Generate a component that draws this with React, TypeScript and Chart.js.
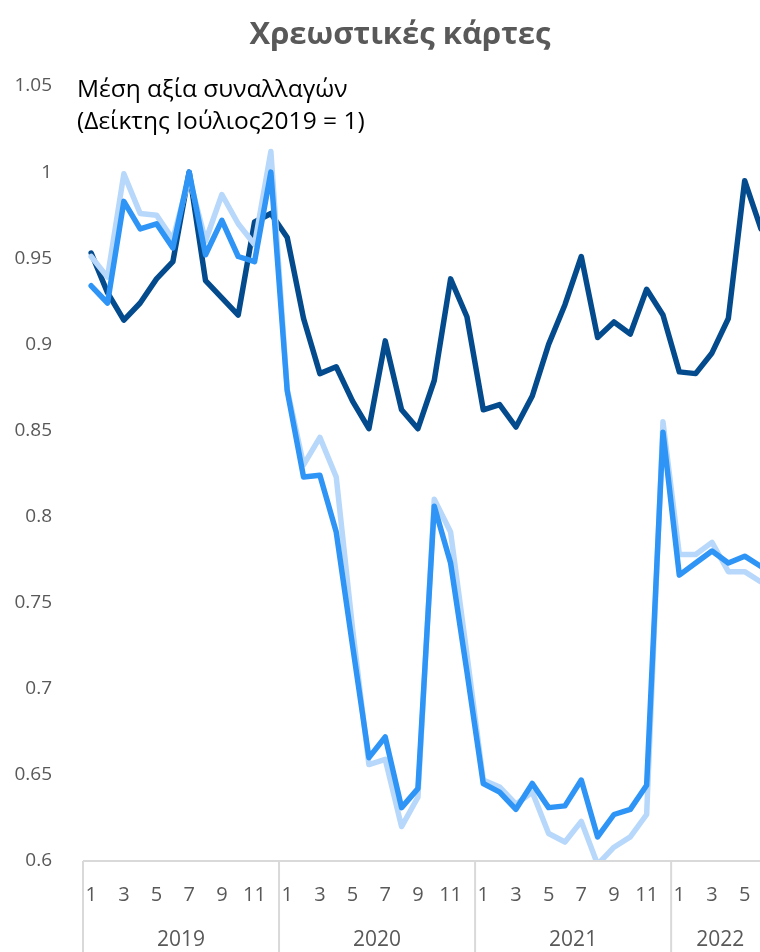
import React, { useEffect, useRef } from "react";
import { Chart, registerables } from "chart.js";

Chart.register(...registerables);

const years = ["2019", "2020", "2021", "2022"];
const monthsPerYear = [12, 12, 12, 6];

// Average transaction value index (July 2019 = 1), three series
const seriesDark = [
  0.953, 0.93, 0.914, 0.924, 0.938, 0.948, 1.0, 0.937, 0.927, 0.917, 0.971, 0.976,
  0.962, 0.915, 0.883, 0.887, 0.867, 0.851, 0.902, 0.862, 0.851, 0.879, 0.938, 0.916,
  0.862, 0.865, 0.852, 0.87, 0.9, 0.923, 0.951, 0.904, 0.913, 0.906, 0.932, 0.917,
  0.884, 0.883, 0.895, 0.915, 0.995, 0.967,
];
const seriesMedium = [
  0.934, 0.924, 0.983, 0.967, 0.97, 0.956, 1.0, 0.952, 0.972, 0.951, 0.948, 1.0,
  0.873, 0.823, 0.824, 0.791, 0.725, 0.66, 0.672, 0.631, 0.642, 0.806, 0.773, 0.71,
  0.645, 0.64, 0.63, 0.645, 0.631, 0.632, 0.647, 0.614, 0.627, 0.63, 0.644, 0.849,
  0.766, 0.773, 0.78, 0.773, 0.777, 0.771,
];
const seriesLight = [
  0.951, 0.939, 0.999, 0.976, 0.975, 0.961, 0.997, 0.96, 0.987, 0.97, 0.958, 1.012,
  0.874, 0.83, 0.846, 0.823, 0.735, 0.656, 0.659, 0.62, 0.637, 0.81, 0.791, 0.72,
  0.647, 0.643, 0.633, 0.64, 0.616, 0.611, 0.623, 0.598, 0.608, 0.614, 0.627, 0.855,
  0.778, 0.778, 0.785, 0.768, 0.768, 0.762,
];

const yMin = 0.6;
const yMax = 1.05;
const yStep = 0.05;

const title = "Χρεωστικές κάρτες";
const subtitle1 = "Μέση αξία συναλλαγών";
const subtitle2 = "(Δείκτης Ιούλιος2019 = 1)";

const FONT = "'Open Sans', 'Noto Sans', sans-serif";
const GRAY = "#595959";

const monthLabels: string[] = [];
monthsPerYear.forEach((n) => {
  for (let m = 1; m <= n; m++) monthLabels.push(String(m));
});

const yearPlugin = {
  id: "yearGroups",
  afterDraw(chart: any) {
    const { ctx, chartArea, scales } = chart;
    const x = scales.x;
    const cat = x.getPixelForValue(1) - x.getPixelForValue(0);
    ctx.save();
    ctx.strokeStyle = "#D9D9D9";
    ctx.lineWidth = 2;
    ctx.beginPath();
    ctx.moveTo(chartArea.left, chartArea.bottom);
    ctx.lineTo(chartArea.right, chartArea.bottom);
    ctx.stroke();
    let start = 0;
    ctx.fillStyle = GRAY;
    ctx.font = `21px ${FONT}`;
    ctx.textAlign = "center";
    ctx.textBaseline = "middle";
    years.forEach((yr, i) => {
      const n = monthsPerYear[i];
      const left = x.getPixelForValue(start) - cat / 2;
      const right = x.getPixelForValue(start + n - 1) + cat / 2;
      ctx.beginPath();
      ctx.moveTo(left, chartArea.bottom);
      ctx.lineTo(left, chart.height);
      ctx.stroke();
      ctx.fillText(yr, (left + right) / 2, 940);
      start += n;
    });
    ctx.restore();
  },
};

export default function App() {
  const ref = useRef<HTMLCanvasElement | null>(null);
  useEffect(() => {
    if (!ref.current) return;
    const common = {
      pointRadius: 0,
      borderWidth: 5.5,
      tension: 0,
      borderJoinStyle: "round" as const,
      borderCapStyle: "round" as const,
      fill: false,
    };
    const chart = new Chart(ref.current, {
      type: "line",
      data: {
        labels: monthLabels,
        datasets: [
          { label: "medium", data: seriesMedium, borderColor: "#2E95F6", ...common },
          { label: "light", data: seriesLight, borderColor: "#B7D8FB", ...common },
          { label: "dark", data: seriesDark, borderColor: "#044B8D", ...common },
        ],
      },
      options: {
        responsive: false,
        animation: false,
        devicePixelRatio: 1,
        layout: { padding: { top: 86, left: 0, right: 0, bottom: 0 } },
        plugins: { legend: { display: false }, tooltip: { enabled: false }, title: { display: false } },
        scales: {
          x: {
            type: "category",
            offset: true,
            grid: { display: false },
            border: { display: false },
            ticks: {
              autoSkip: false,
              maxRotation: 0,
              padding: 14,
              color: GRAY,
              font: { family: FONT, size: 20 },
              callback: (_v: any, i: number) => (Number(monthLabels[i]) % 2 === 1 ? monthLabels[i] : ""),
            },
            afterFit: (s: any) => {
              s.height = 91;
            },
          },
          y: {
            min: yMin,
            max: yMax,
            grid: { display: false },
            border: { display: false },
            ticks: {
              stepSize: yStep,
              padding: 23,
              color: GRAY,
              font: { family: FONT, size: 19 },
              callback: (v: any) => String(Math.round(Number(v) * 100) / 100),
            },
            afterFit: (s: any) => {
              s.width = 83;
            },
          },
        },
      },
      plugins: [yearPlugin],
    });
    return () => chart.destroy();
  }, []);

  return (
    <div style={{ position: "absolute", left: 0, top: 0, width: 760, height: 952, overflow: "hidden", background: "#fff" }}>
      <canvas ref={ref} width={775} height={952} style={{ position: "absolute", left: 0, top: 0, width: 775, height: 952 }} />
      <div
        style={{
          position: "absolute",
          left: 0,
          width: 800,
          top: 12,
          textAlign: "center",
          fontFamily: FONT,
          fontWeight: 700,
          fontSize: 31,
          lineHeight: "40px",
          color: GRAY,
        }}
      >
        {title}
      </div>
      <div
        style={{
          position: "absolute",
          left: 77,
          top: 72,
          fontFamily: FONT,
          fontSize: 24.5,
          lineHeight: "32px",
          color: "#000",
          whiteSpace: "nowrap",
        }}
      >
        <div>{subtitle1}</div>
        <div>{subtitle2}</div>
      </div>
    </div>
  );
}
